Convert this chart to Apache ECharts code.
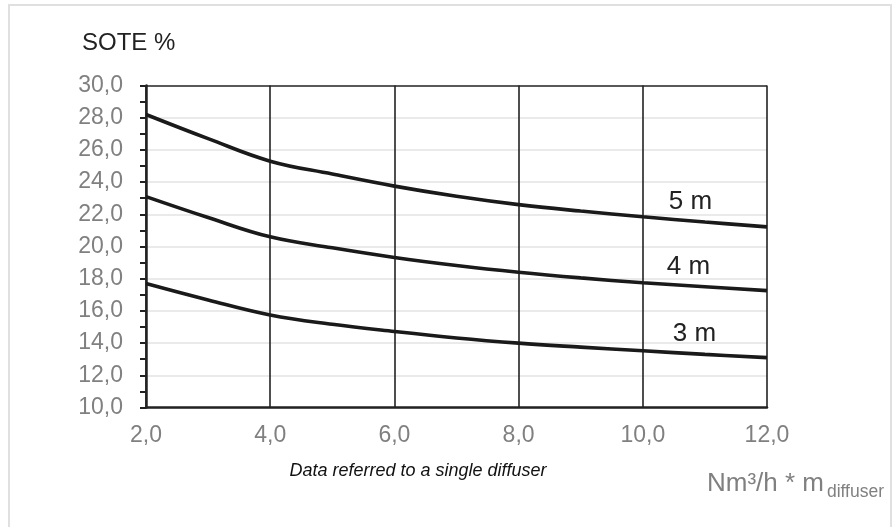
<!DOCTYPE html>
<html>
<head>
<meta charset="utf-8">
<script src="https://cdn.jsdelivr.net/npm/echarts@6/dist/echarts.min.js"></script>
<style>html,body{margin:0;padding:0;background:#fff}#c{width:893px;height:527px}</style>
</head>
<body>
<div id="c"></div>
<script>
var xValues = [2, 3, 4, 5, 6, 7, 8, 9, 10, 11, 12];
var sote5m = [28.2, 26.7, 25.3, 24.5, 23.75, 23.12, 22.6, 22.2, 21.85, 21.52, 21.22];
var sote4m = [23.1, 21.8, 20.6, 19.92, 19.32, 18.82, 18.4, 18.05, 17.75, 17.5, 17.26];
var sote3m = [17.7, 16.68, 15.75, 15.17, 14.72, 14.32, 14.0, 13.75, 13.52, 13.3, 13.1];
var seriesNames = ['5 m', '4 m', '3 m'];
var labelAt = 11;

var FONT = '"Liberation Sans", Arial, sans-serif';

function build(vals, name, off) {
  return xValues.map(function (x, i) {
    var item = { value: [x, vals[i]] };
    if (x === labelAt) {
      item.label = {
        show: true, formatter: name, position: 'inside', offset: off,
        fontSize: 26, color: '#222', fontFamily: FONT
      };
    }
    return item;
  });
}

var yGridColors = [];
for (var k = 0; k < 10; k++) yGridColors.push('#e3e3e3');
yGridColors.push('#222');

function lineSeries(name, vals, off) {
  return {
    name: name, type: 'line', smooth: 0.4,
    symbol: 'circle', symbolSize: 0, showSymbol: true,
    itemStyle: { color: '#1a1a1a' },
    data: build(vals, name, off),
    lineStyle: { color: '#1a1a1a', width: 3.6 }
  };
}

var chart = echarts.init(document.getElementById('c'));
chart.setOption({
  animation: false,
  backgroundColor: '#fff',
  grid: { left: 146, right: 126, top: 85.5, bottom: 119.5 },
  xAxis: {
    type: 'value', min: 2, max: 12, interval: 2,
    axisLine: { show: true, lineStyle: { color: '#222', width: 2.5 } },
    axisTick: { show: false },
    axisLabel: {
      color: '#808080', fontSize: 23, fontFamily: FONT, margin: 17,
      formatter: function (v) { return v.toFixed(1).replace('.', ','); }
    },
    splitLine: { show: true, lineStyle: { color: '#222', width: 1.6 } }
  },
  yAxis: {
    type: 'value', min: 10, max: 30, interval: 2,
    axisLine: { show: true, lineStyle: { color: '#222', width: 2.5 } },
    axisTick: { show: true, length: 6, lineStyle: { color: '#222', width: 2 } },
    minorTick: { show: true, splitNumber: 2, length: 6, lineStyle: { color: '#222', width: 2 } },
    axisLabel: {
      color: '#808080', fontSize: 23, fontFamily: FONT, margin: 23,
      formatter: function (v) { return v.toFixed(1).replace('.', ','); }
    },
    splitLine: { show: true, lineStyle: { color: yGridColors, width: 1.6 } }
  },
  series: [
    lineSeries(seriesNames[0], sote5m, [-14.5, -20]),
    lineSeries(seriesNames[1], sote4m, [-16.5, -20]),
    lineSeries(seriesNames[2], sote3m, [-10.5, -21])
  ],
  graphic: [
    { type: 'rect', shape: { x: 9, y: 5, width: 882, height: 530 }, silent: true,
      style: { fill: 'none', stroke: '#e0e0e0', lineWidth: 2 } },
    { type: 'text', x: 82, y: 31,
      style: { text: 'SOTE %', fontSize: 24, fill: '#222', fontFamily: FONT, verticalAlign: 'top' } },
    { type: 'text', x: 418, y: 471,
      style: { text: 'Data referred to a single diffuser', fontSize: 18, fontStyle: 'italic', fill: '#111',
        fontFamily: FONT, align: 'center', verticalAlign: 'middle' } },
    { type: 'text', x: 707, y: 496.5,
      style: { text: 'Nm³/h * m', fontSize: 26, fill: '#808080', fontFamily: FONT, verticalAlign: 'bottom' } },
    { type: 'text', x: 884, y: 501,
      style: { text: 'diffuser', fontSize: 17.5, fill: '#808080', fontFamily: FONT, align: 'right', verticalAlign: 'bottom' } }
  ]
});
</script>
</body>
</html>
